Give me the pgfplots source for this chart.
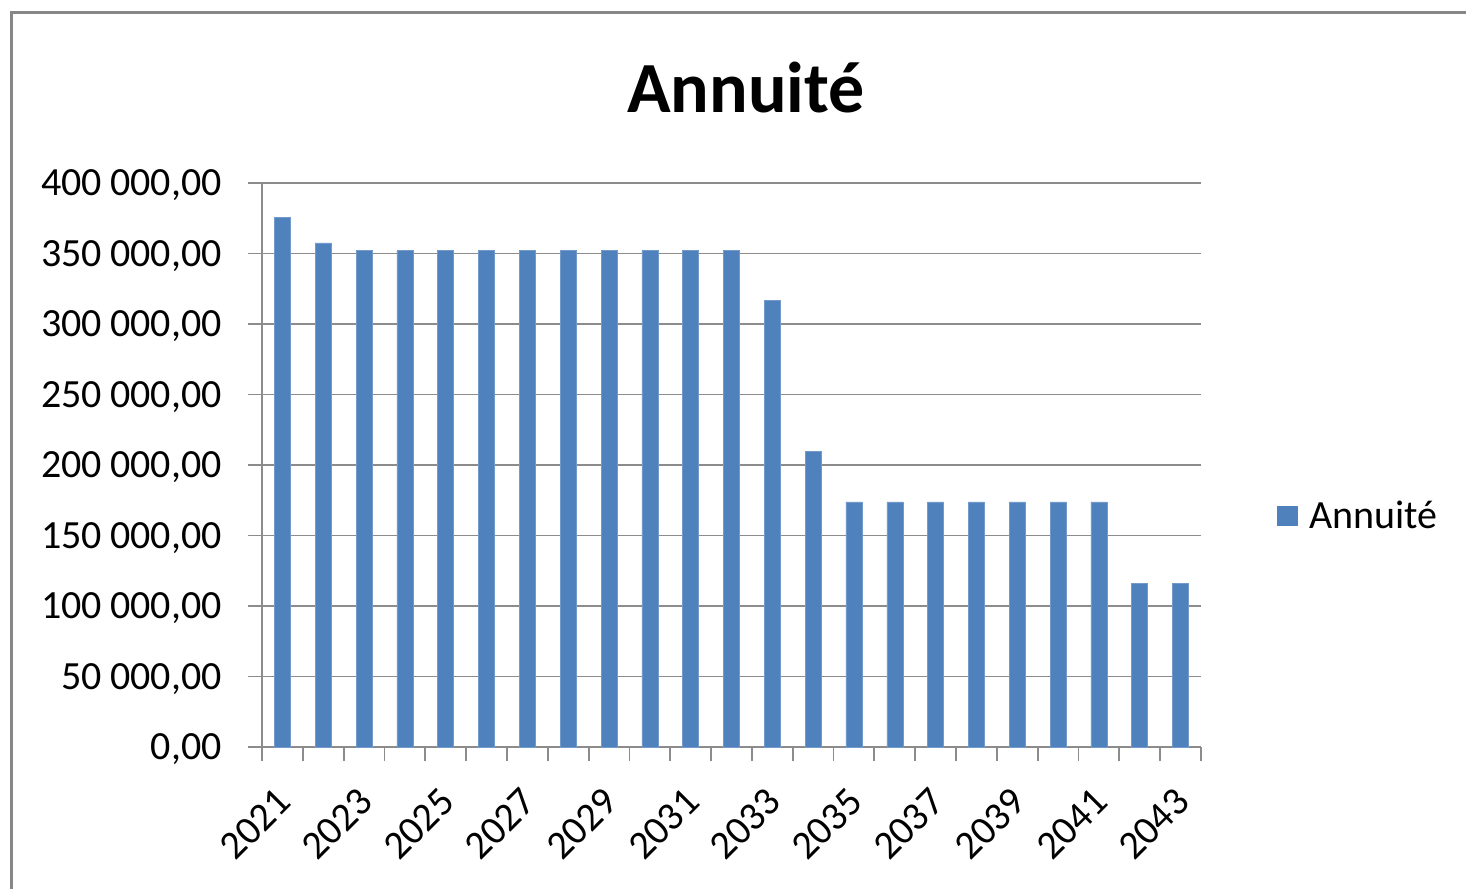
\documentclass[border=0pt]{standalone}
\usepackage{pgfplots}
\pgfplotsset{compat=1.18}
\usepackage{fontspec}
\setmainfont{Carlito}
\definecolor{barblue}{HTML}{4F81BD}
\definecolor{axgray}{HTML}{8C8C8C}
\definecolor{framegray}{HTML}{878787}
\pgfplotstableread{
x val
0 375600
1 357500
2 352300
3 352300
4 352300
5 352300
6 352300
7 352300
8 352300
9 352300
10 352300
11 352300
12 316500
13 209600
14 173900
15 173900
16 173900
17 173900
18 173900
19 173900
20 173900
21 115900
22 115900
}\annuite
\begin{document}
\begin{tikzpicture}
\useasboundingbox (0pt,0pt) rectangle (733pt,-444.5pt);
\draw[framegray, line width=1.5pt] (5.75pt,-444.5pt) -- (5.75pt,-6pt) -- (733pt,-6pt);
\begin{axis}[
  at={(131pt,-373.5pt)}, anchor=south west,
  scale only axis, width=469.5pt, height=282pt,
  xmin=-0.5, xmax=22.5, ymin=0, ymax=400000,
  axis x line*=bottom, axis y line*=left,
  axis line style={axgray, line width=0.9pt},
  ytick={0,50000,...,400000},
  ymajorgrids, grid style={axgray, line width=0.9pt},
  tick align=outside, major tick length=7pt,
  tick style={axgray, line width=0.9pt},
  xtick={-0.5,0.5,...,22.5}, xticklabels={},
  extra x ticks={0,2,...,22},
  extra x tick labels={2021,2023,2025,2027,2029,2031,2033,2035,2037,2039,2041,2043},
  extra x tick style={major tick length=0pt},
  xticklabel style={font=\fontsize{20pt}{24pt}\selectfont, xshift=1pt, yshift=-24pt, rotate=45, anchor=east, inner sep=0pt},
  yticklabel style={font=\fontsize{20pt}{24pt}\selectfont, anchor=base east, inner sep=0pt, xshift=-13pt, yshift=-6.3pt},
  yticklabel={\pgfmathprintnumber[fixed, fixed zerofill, precision=2, use comma, 1000 sep={\hskip0.2em}]{\tick}},
  /pgf/number format/assume math mode=true,
  scaled y ticks=false,
  clip=false,
]
\addplot[ybar, bar width=8pt, fill=barblue, draw=barblue!80!white, line width=0.3pt] table[x=x, y=val] {\annuite};
\end{axis}
\node[font=\fontsize{36pt}{40pt}\selectfont\bfseries, anchor=base] at (373pt,-56pt) {Annuité};
\fill[barblue] (638.5pt,-253pt) rectangle (649pt,-263pt);
\node[font=\fontsize{20pt}{24pt}\selectfont, anchor=base west, inner sep=0pt] at (654.5pt,-264pt) {Annuité};
\end{tikzpicture}
\end{document}
